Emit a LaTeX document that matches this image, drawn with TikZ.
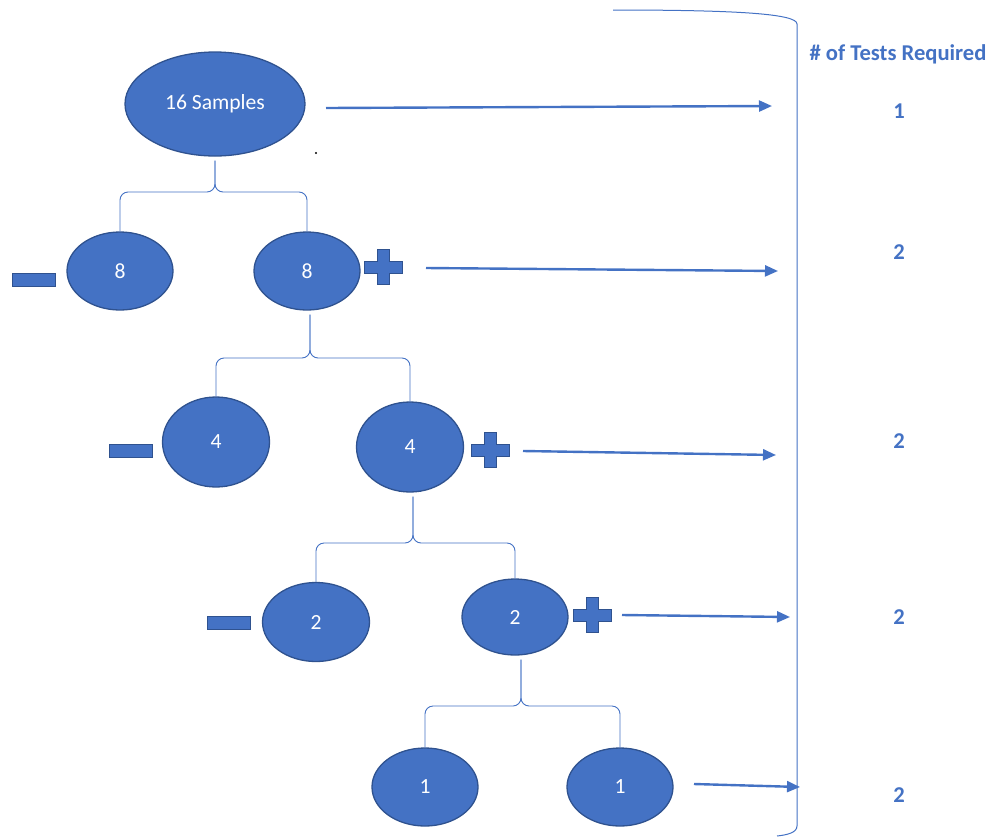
\documentclass[tikz,border=0pt]{standalone}
\usepackage{fontspec}
\setmainfont{Carlito}
\usetikzlibrary{shapes.geometric,arrows.meta}

\definecolor{sampleblue}{HTML}{4472C4}
\definecolor{sampleedge}{HTML}{2F528F}

\tikzset{
  pool/.style={ellipse, fill=sampleblue, draw=sampleedge, line width=1.3pt,
    text=white, inner sep=0pt, font=\fontsize{21.6}{26}\selectfont},
  minussign/.style={rectangle, fill=sampleblue, draw=sampleedge, line width=1pt,
    minimum width=43pt, minimum height=13pt, inner sep=0pt},
  split/.style={draw=sampleblue, line width=0.9pt, rounded corners=8pt},
  testarrow/.style={draw=sampleblue, line width=2.4pt, -{Triangle[length=13pt,width=11pt]}},
  count/.style={text=sampleblue, font=\fontsize{22.6}{27}\selectfont\bfseries},
  plussign/.pic={
    \filldraw[fill=sampleblue, draw=sampleedge, line width=1pt]
      (-19,-6) -- (-6,-6) -- (-6,-17.5) -- (6,-17.5) -- (6,-6) -- (19,-6)
      -- (19,6) -- (6,6) -- (6,17.5) -- (-6,17.5) -- (-6,6) -- (-19,6) -- cycle;
  }
}

% parent, left child, right child, height of the split, shift of the stem
\newcommand{\splitpool}[5]{%
  \draw[split] ([xshift=#5pt, yshift=-4pt]#1.south) |- (#2.north |- 0,#4) -- (#2.north);
  \draw[split] ([xshift=#5pt, yshift=-4pt]#1.south) |- (#3.north |- 0,#4) -- (#3.north);
}

\begin{document}
\begin{tikzpicture}[x=1pt, y=-1pt]
\useasboundingbox (0,0) rectangle (994,836);

 \node[pool, minimum width=180pt, minimum height=104pt] (n16) at (215,104) {16 Samples};

 \node[pool, minimum width=106pt, minimum height=78pt] (n8a) at (120,271) {8};
 \node[pool, minimum width=106pt, minimum height=78pt] (n8b) at (307,271) {8};
 \node[minussign] (m8) at (33.5,280) {};
 \pic (p8) at (383,267) {plussign};

 \node[pool, minimum width=107pt, minimum height=90pt] (n4a) at (216,442) {4};
 \node[pool, minimum width=107pt, minimum height=90pt] (n4b) at (410,447) {4};
 \node[minussign] (m4) at (130.5,450.5) {};
 \pic (p4) at (490,450) {plussign};

 \node[pool, minimum width=107pt, minimum height=79pt] (n2a) at (316,622) {2};
 \node[pool, minimum width=106pt, minimum height=76pt] (n2b) at (515,617) {2};
 \node[minussign] (m2) at (228.5,622.5) {};
 \pic (p2) at (592,615) {plussign};

 \node[pool, minimum width=106pt, minimum height=78pt] (n1a) at (425,787) {1};
 \node[pool, minimum width=106pt, minimum height=78pt] (n1b) at (620,787) {1};

\splitpool{n16}{n8a}{n8b}{192}{0}
\splitpool{n8b}{n4a}{n4b}{358}{3}
\splitpool{n4b}{n2a}{n2b}{543}{3}
\splitpool{n2b}{n1a}{n1b}{706}{6}

\fill (316,153) circle (1.1pt);

% arrows to the bracket
\coordinate (s1) at (326,108);
\coordinate (e1) at (772,106);
\coordinate (s2) at (426,268);
\coordinate (e2) at (778,271);
\coordinate (s3) at (523,451);
\coordinate (e3) at (776,455);
\coordinate (s4) at (622,615);
\coordinate (e4) at (790,617);
\coordinate (s5) at (694,784);
\coordinate (e5) at (800,787);
\draw[testarrow] (s1) -- (e1);
\draw[testarrow] (s2) -- (e2);
\draw[testarrow] (s3) -- (e3);
\draw[testarrow] (s4) -- (e4);
\draw[testarrow] (s5) -- (e5);

\draw[sampleblue, line width=1pt] (613,10) .. controls (740,10) and (797,14) .. (797,24)
  -- (797,826) .. controls (797,833) and (786,835) .. (777,836);

 \node[count] (head) at (898,54) {\# of Tests Required};
 \node[count] (t1) at (899,111) {1};
 \node[count] (t2) at (899,252) {2};
 \node[count] (t3) at (899,441) {2};
 \node[count] (t4) at (899,617) {2};
 \node[count] (t5) at (899,795) {2};

\end{tikzpicture}
\end{document}
